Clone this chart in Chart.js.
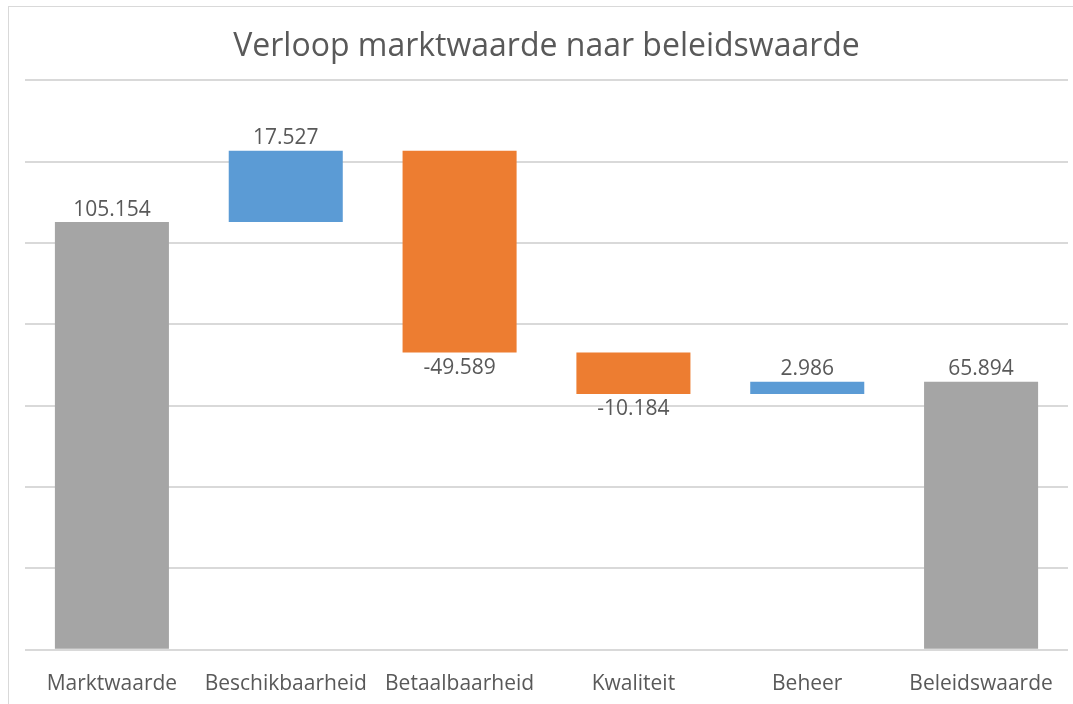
<!DOCTYPE html>
<html>

<head>
    <title>Verloop marktwaarde naar beleidswaarde</title>
    <script src="https://cdn.jsdelivr.net/npm/chart.js"></script>
    <style>
        body { margin: 0; overflow: hidden; background: #fff; }
        #frame { position: absolute; left: 8px; top: 6px; width: 1100px; height: 720px; border: 1px solid #d9d9d9; }
        #wrap { position: absolute; left: 0; top: 0; width: 1073px; height: 704px; }
    </style>
</head>

<body>
    <div id="frame"></div>
    <div id="wrap"><canvas id="myChart"></canvas></div>
    <script>
        // stappen in de waterval (duizenden euro's)
        const labels = ['Marktwaarde', 'Beschikbaarheid', 'Betaalbaarheid', 'Kwaliteit', 'Beheer', 'Beleidswaarde'];
        const changes = [105154, 17527, -49589, -10184, 2986, 65894];
        const isTotal = [true, false, false, false, false, true];
        const yTicks = [0, 20000, 40000, 60000, 80000, 100000, 120000, 140000];

        const grey = '#a5a5a5';
        const blue = '#5b9bd5';
        const orange = '#ed7d31';

        // floating bars [start, end] opbouwen uit de stappen
        let running = 0;
        let bars = [];
        let colors = [];
        changes.forEach((v, i) => {
            if (isTotal[i]) {
                bars.push([0, v]);
                running = v;
                colors.push(grey);
            } else {
                bars.push([running, running + v]);
                running += v;
                colors.push(v >= 0 ? blue : orange);
            }
        });

        function fmt(v) {
            let s = Math.abs(v).toString().replace(/\B(?=(\d{3})+(?!\d))/g, '.');
            return (v < 0 ? '-' : '') + s;
        }

        const valueLabels = {
            id: 'valueLabels',
            afterDatasetsDraw(chart) {
                const ctx = chart.ctx;
                const meta = chart.getDatasetMeta(0);
                ctx.save();
                ctx.font = '21px "Open Sans"';
                ctx.fillStyle = '#595959';
                ctx.textAlign = 'center';
                meta.data.forEach((bar, i) => {
                    const v = changes[i];
                    const top = Math.min(bar.y, bar.base);
                    const bottom = Math.max(bar.y, bar.base);
                    if (v >= 0) {
                        ctx.textBaseline = 'bottom';
                        ctx.fillText(fmt(v), bar.x, top - 2);
                    } else {
                        ctx.textBaseline = 'top';
                        ctx.fillText(fmt(v), bar.x, bottom + 5);
                    }
                });
                ctx.restore();
            }
        };

        const config = {
            type: 'bar',
            data: {
                labels: labels,
                datasets: [{
                    data: bars,
                    backgroundColor: colors,
                    borderWidth: 0,
                    categoryPercentage: 1,
                    barPercentage: 0.656
                }]
            },
            options: {
                responsive: true,
                maintainAspectRatio: false,
                animation: false,
                layout: { padding: { left: 25, right: 5, top: 0, bottom: -7 } },
                plugins: {
                    legend: { display: false },
                    tooltip: { enabled: false },
                    title: {
                        display: true,
                        text: 'Verloop marktwaarde naar beleidswaarde',
                        color: '#595959',
                        font: { family: 'Open Sans', size: 32, weight: 'normal' },
                        padding: { top: 28, bottom: 14 }
                    }
                },
                scales: {
                    x: {
                        grid: { display: false },
                        border: { display: false },
                        ticks: {
                            color: '#595959',
                            font: { family: 'Open Sans', size: 21 },
                            padding: 14,
                            maxRotation: 0,
                            autoSkip: false
                        }
                    },
                    y: {
                        min: yTicks[0],
                        max: yTicks[yTicks.length - 1],
                        afterBuildTicks: (axis) => { axis.ticks = yTicks.map(v => ({ value: v })); },
                        ticks: { display: false },
                        grid: { color: '#d9d9d9', lineWidth: 2, drawTicks: false },
                        border: { display: false }
                    }
                }
            },
            plugins: [valueLabels]
        };

        new Chart(document.getElementById('myChart'), config);
    </script>
</body>

</html>
